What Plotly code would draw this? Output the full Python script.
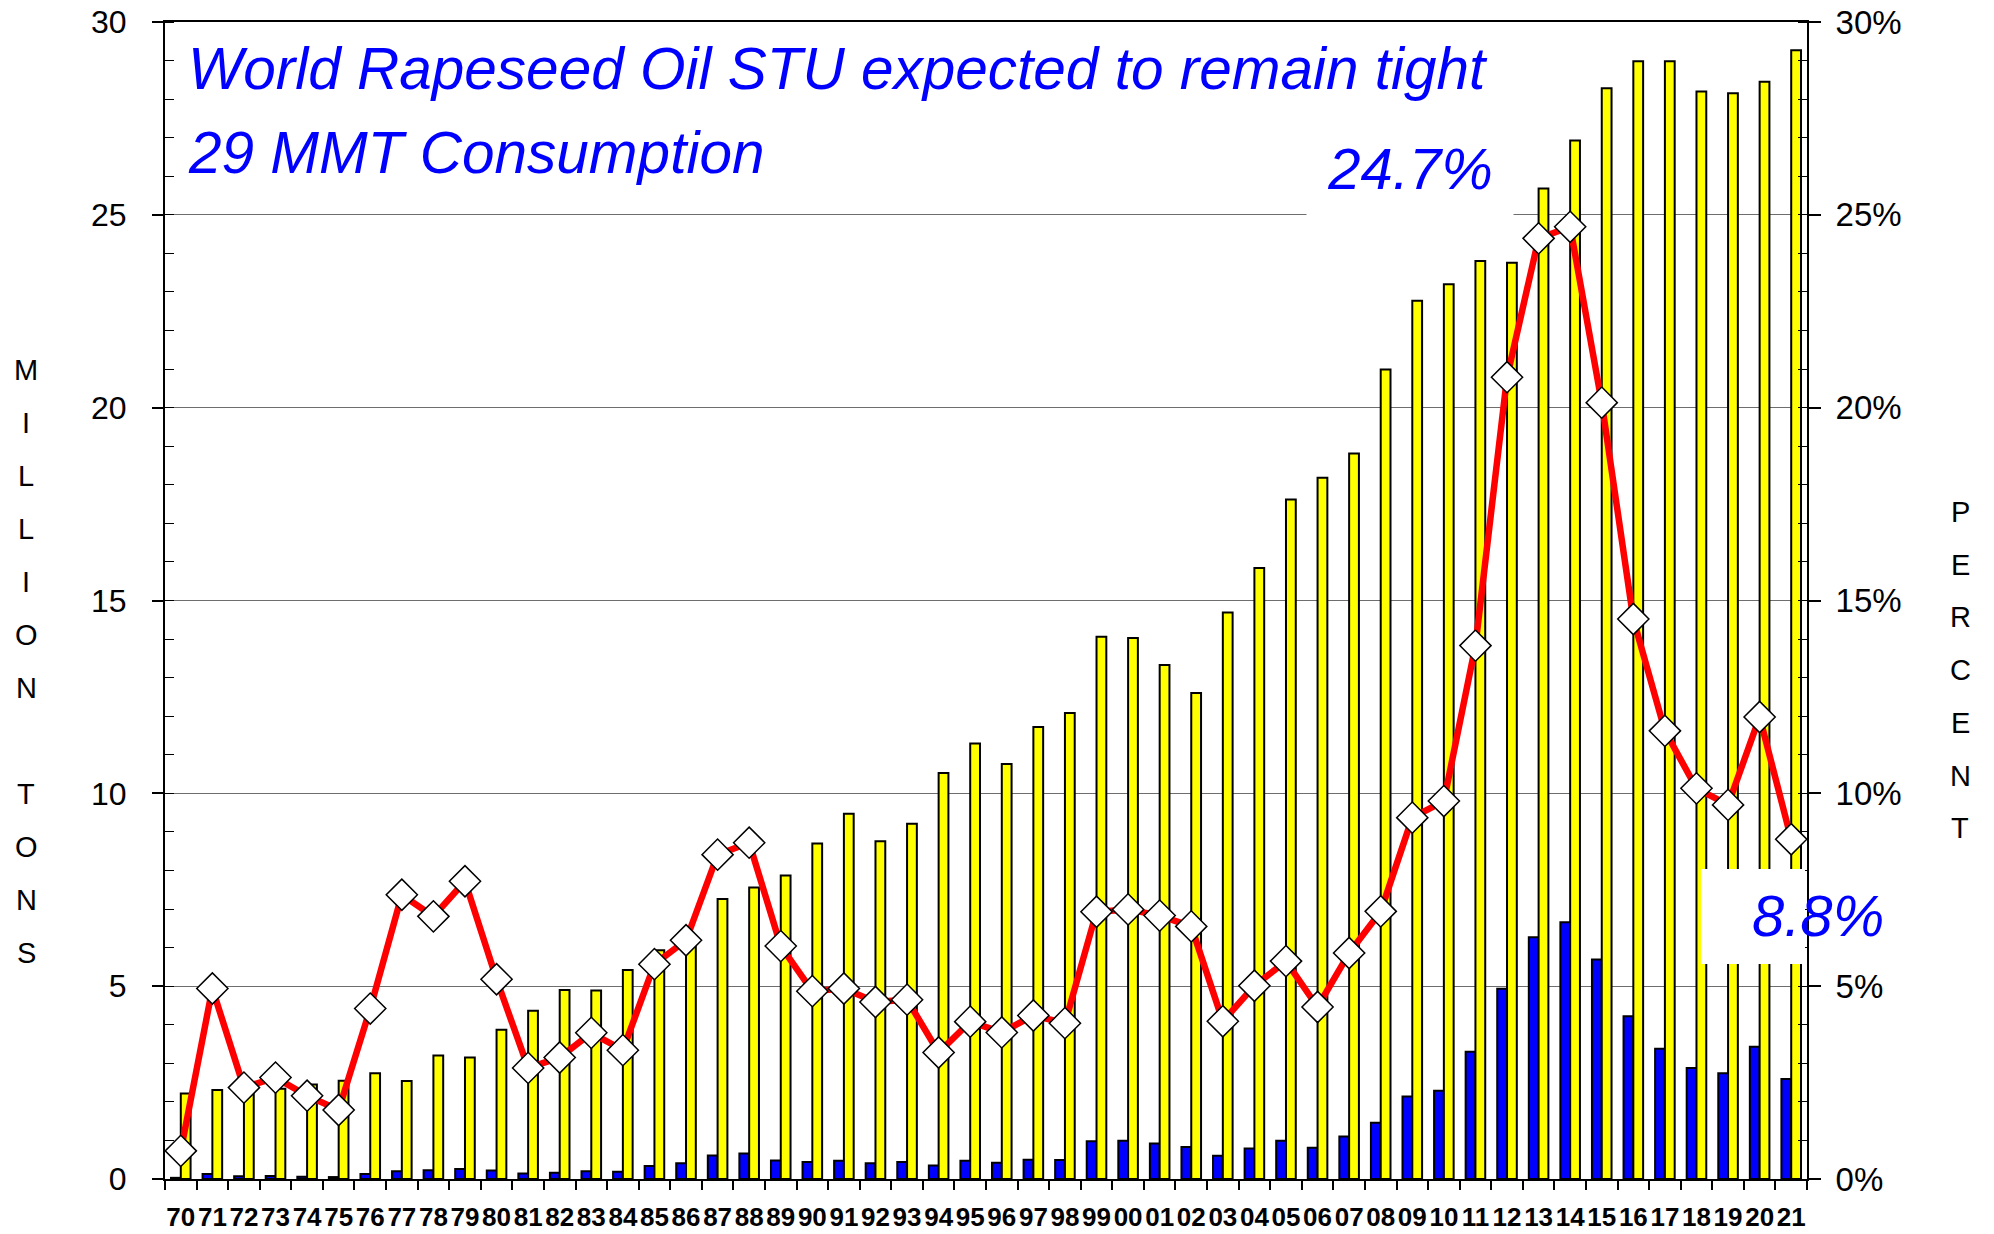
import plotly.graph_objects as go

# ---------------- data ----------------
years = ["70", "71", "72", "73", "74", "75", "76", "77", "78", "79",
         "80", "81", "82", "83", "84", "85", "86", "87", "88", "89",
         "90", "91", "92", "93", "94", "95", "96", "97", "98", "99",
         "00", "01", "02", "03", "04", "05", "06", "07", "08", "09",
         "10", "11", "12", "13", "14", "15", "16", "17", "18", "19",
         "20", "21"]

ending_stocks = [0.03, 0.13, 0.07, 0.08, 0.06, 0.05, 0.13, 0.20, 0.23, 0.26,
                 0.22, 0.14, 0.16, 0.20, 0.19, 0.34, 0.41, 0.61, 0.66, 0.48,
                 0.44, 0.47, 0.41, 0.44, 0.35, 0.47, 0.42, 0.50, 0.49, 0.98,
                 0.99, 0.92, 0.83, 0.60, 0.79, 0.99, 0.81, 1.10, 1.46, 2.14,
                 2.29, 3.30, 4.93, 6.27, 6.66, 5.69, 4.22, 3.38, 2.88, 2.74,
                 3.43, 2.59]

consumption = [2.22, 2.31, 2.36, 2.34, 2.45, 2.55, 2.74, 2.54, 3.20, 3.15,
               3.87, 4.36, 4.90, 4.89, 5.42, 5.93, 6.15, 7.26, 7.56, 7.87,
               8.70, 9.47, 8.76, 9.21, 10.53, 11.29, 10.76, 11.72, 12.08, 14.06,
               14.03, 13.33, 12.60, 14.69, 15.84, 17.62, 18.18, 18.81, 20.99, 22.77,
               23.20, 23.80, 23.76, 25.68, 26.93, 28.28, 28.98, 28.98, 28.20, 28.15,
               28.45, 29.27]

stu_pct = [0.73, 4.94, 2.37, 2.63, 2.16, 1.79, 4.42, 7.37, 6.81, 7.72,
           5.18, 2.88, 3.15, 3.79, 3.34, 5.57, 6.19, 8.41, 8.72, 6.04,
           4.87, 4.94, 4.59, 4.65, 3.28, 4.08, 3.80, 4.24, 4.04, 6.93,
           6.99, 6.83, 6.55, 4.09, 5.01, 5.65, 4.46, 5.86, 6.94, 9.37,
           9.80, 13.83, 20.79, 24.39, 24.69, 20.13, 14.52, 11.62, 10.13, 9.70,
           11.98, 8.81]

title_line1 = "World Rapeseed Oil STU expected to remain tight"
title_line2 = "29 MMT Consumption"
peak_label = "24.7%"
last_label = "8.8%"
left_title = "MILLION TONS"
right_title = "PERCENT"

# ---------------- geometry helpers (page pixel coords) ----------------
W, H = 1994, 1234
L, R, T, B = 165, 1807, 22, 1179   # plot area in page pixels


def px(x):
    return (x - L) / (R - L)


def py(y):
    return (B - y) / (B - T)


FONT = "Liberation Sans, Arial, sans-serif"

fig = go.Figure()

fig.add_trace(go.Bar(
    x=years, y=ending_stocks, name="Ending stocks",
    marker=dict(color="#0000FF", line=dict(color="black", width=2)),
))
fig.add_trace(go.Bar(
    x=years, y=consumption, name="Consumption",
    marker=dict(color="#FFFF00", line=dict(color="black", width=2)),
))
fig.add_trace(go.Scatter(
    x=years, y=stu_pct, yaxis="y2", mode="lines+markers", name="STU",
    line=dict(color="#FF0000", width=6.5),
    marker=dict(symbol="diamond", size=24, color="white",
                line=dict(color="black", width=1.5)),
))

annotations = []
# Title lines
annotations.append(dict(xref="paper", yref="paper", x=px(186), y=py(68),
                        xanchor="left", yanchor="middle", showarrow=False,
                        text="<i>" + title_line1 + "</i>",
                        font=dict(family=FONT, size=58.5, color="#0000FF")))
annotations.append(dict(xref="paper", yref="paper", x=px(186), y=py(153),
                        xanchor="left", yanchor="middle", showarrow=False,
                        text="<i>" + title_line2 + "</i>",
                        font=dict(family=FONT, size=58.5, color="#0000FF")))
# 24.7% with white box
annotations.append(dict(xref="paper", yref="paper", x=px(1410), y=py(168),
                        xanchor="center", yanchor="middle", showarrow=False,
                        text="<i>" + peak_label + "</i>", bgcolor="white",
                        width=206, height=96, borderpad=0,
                        font=dict(family=FONT, size=58, color="#0000FF")))
# 8.8%
annotations.append(dict(xref="paper", yref="paper", x=px(1818), y=py(915),
                        xanchor="center", yanchor="middle", showarrow=False,
                        text="<i>" + last_label + "</i>",
                        font=dict(family=FONT, size=58, color="#0000FF")))

# stacked axis titles
for i, ch in enumerate(left_title):
    if ch.strip():
        annotations.append(dict(xref="paper", yref="paper", x=px(26), y=py(370 + i * 53),
                                xanchor="center", yanchor="middle", showarrow=False,
                                text=ch, font=dict(family=FONT, size=29, color="black")))
for i, ch in enumerate(right_title):
    annotations.append(dict(xref="paper", yref="paper", x=px(1960), y=py(512 + i * 52.7),
                            xanchor="center", yanchor="middle", showarrow=False,
                            text=ch, font=dict(family=FONT, size=29, color="black")))

shapes = [dict(type="rect", xref="paper", yref="paper",
               x0=px(1701), x1=px(1805), y0=py(964), y1=py(869),
               fillcolor="white", line=dict(width=0), layer="above")]

fig.update_layout(
    width=W, height=H, autosize=False,
    margin=dict(l=L, r=W - R, t=T, b=H - B, pad=0, autoexpand=False),
    paper_bgcolor="white", plot_bgcolor="white",
    showlegend=False,
    barmode="group", bargap=0.38, bargroupgap=0.0,
    font=dict(family=FONT, color="black"),
    xaxis=dict(
        type="category", range=[-0.5, len(years) - 0.5],
        tickson="boundaries", ticks="outside", ticklen=9, tickwidth=1.5, tickcolor="black",
        showline=True, linecolor="black", linewidth=2, mirror=True,
        showgrid=False, zeroline=False, automargin=False, tickangle=0,
        tickfont=dict(family=FONT, size=26, color="black", weight="bold"),
        ticklabelstandoff=14, ticklabeloverflow="allow",
    ),
    yaxis=dict(
        range=[0, 30], dtick=5, tick0=0, automargin=False,
        showgrid=True, gridcolor="#6e6e6e", gridwidth=1,
        ticks="outside", ticklen=11, tickwidth=1.5, tickcolor="black",
        minor=dict(dtick=1, ticks="inside", ticklen=9, tickwidth=1, tickcolor="black", showgrid=False),
        showline=True, linecolor="black", linewidth=2, zeroline=False,
        tickfont=dict(family=FONT, size=32, color="black"),
        ticklabelstandoff=19, ticklabeloverflow="allow",
    ),
    yaxis2=dict(
        overlaying="y", side="right", automargin=False,
        range=[0, 30], dtick=5, tick0=0, ticksuffix="%",
        showgrid=False, zeroline=False,
        ticks="outside", ticklen=12, tickwidth=1.5, tickcolor="black",
        minor=dict(dtick=1, ticks="inside", ticklen=9, tickwidth=1, tickcolor="black", showgrid=False),
        showline=True, linecolor="black", linewidth=2,
        tickfont=dict(family=FONT, size=33, color="black"),
        ticklabelstandoff=8, ticklabeloverflow="allow",
    ),
    annotations=annotations,
    shapes=shapes,
)

# remove the default 8px page margin so the figure fills the window exactly
fig.write_html("out.html",
               config={"displayModeBar": False},
               post_script="document.body.style.margin='0';document.body.style.overflow='hidden';")
